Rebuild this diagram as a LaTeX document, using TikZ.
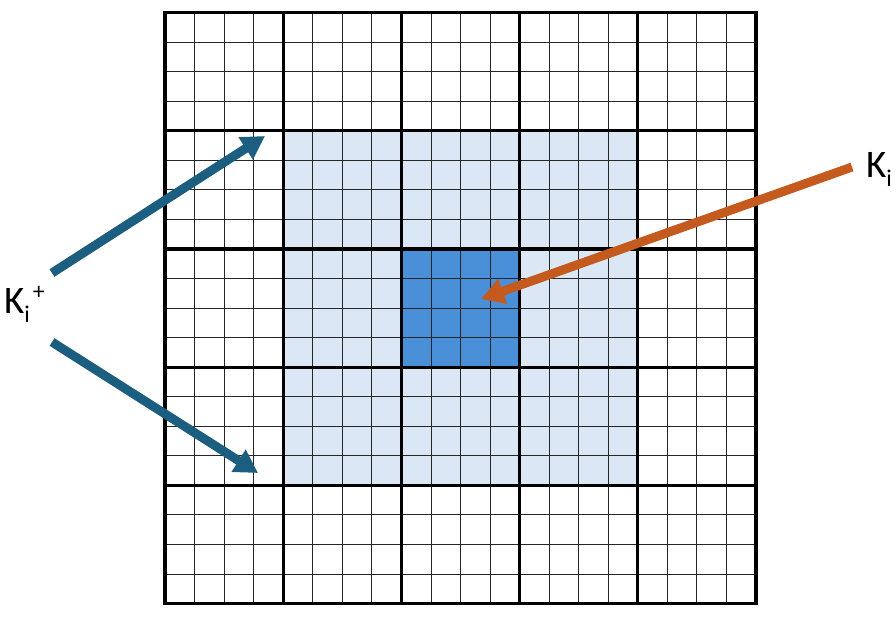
\documentclass[tikz,border=0pt]{standalone}
\usepackage{fontspec}
\setmainfont{Carlito}
\usetikzlibrary{arrows.meta}
\definecolor{lightcell}{HTML}{DCE7F5}
\definecolor{darkcell}{HTML}{4A90D9}
\definecolor{tealarrow}{HTML}{1B5E7F}
\definecolor{orangearrow}{HTML}{C55A1E}
\tikzset{
  fineline/.style={line width=0.9pt,black!85},
  coarseline/.style={line width=3.2pt,black},
  bigarrow/.style={line width=9pt,-{Triangle[length=23pt,width=25pt]}},
  lbl/.style={inner sep=0pt,anchor=base west,font=\fontsize{39}{39}\selectfont},
}
\newcommand{\smallfs}{\fontsize{24}{24}\selectfont}
\begin{document}
\begin{tikzpicture}[x=1pt,y=-1pt]
\useasboundingbox (0,0) rectangle (896,616);
\def\xa{165}\def\ya{12.5}\def\cs{118.2}
% fills
\fill[lightcell] (\xa+\cs,\ya+\cs) rectangle (\xa+4*\cs,\ya+4*\cs);
\fill[darkcell] (\xa+2*\cs,\ya+2*\cs) rectangle (\xa+3*\cs,\ya+3*\cs);
% fine lines
\foreach \i in {1,...,19}{
  \draw[fineline] (\xa+\i*\cs/4,\ya) -- (\xa+\i*\cs/4,\ya+5*\cs);
  \draw[fineline] (\xa,\ya+\i*\cs/4) -- (\xa+5*\cs,\ya+\i*\cs/4);
}
% coarse lines
\foreach \i in {0,...,5}{
  \draw[coarseline,line cap=rect] (\xa+\i*\cs,\ya) -- (\xa+\i*\cs,\ya+5*\cs);
  \draw[coarseline,line cap=rect] (\xa,\ya+\i*\cs) -- (\xa+5*\cs,\ya+\i*\cs);
}
% labels
\node[lbl] (kplus) at (4,313) {K\raisebox{-9pt}{\smallfs i}\hspace{3pt}\raisebox{14pt}{\smallfs +}};
\node[lbl] (ki) at (866,177) {K\raisebox{-9pt}{\smallfs i}};
% arrow end coordinates
\coordinate (upS) at (52,273);
\coordinate (upT) at (265,136);
\coordinate (loS) at (52,342);
\coordinate (loT) at (258,473);
\coordinate (orS) at (852,167);
\coordinate (orT) at (481,299);
\draw[bigarrow,tealarrow] (upS) -- (upT);
\draw[bigarrow,tealarrow] (loS) -- (loT);
\draw[bigarrow,orangearrow] (orS) -- (orT);
\end{tikzpicture}
\end{document}
